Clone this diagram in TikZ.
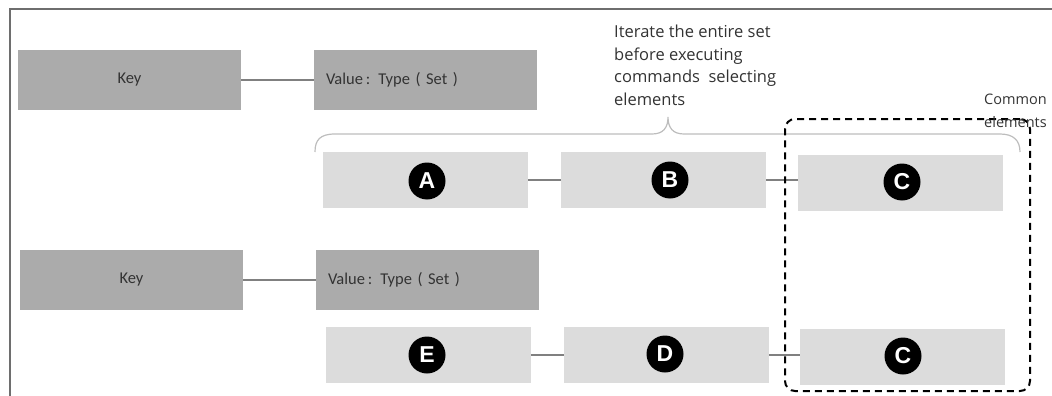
\documentclass[tikz,border=0pt]{standalone}
\usepackage{fontspec}
\setmainfont{Carlito}
\newfontfamily\notefont{Open Sans}
\newfontfamily\badgefont{Liberation Sans}
\definecolor{keygray}{HTML}{ABABAB}
\definecolor{elgray}{HTML}{DCDCDC}
\definecolor{linegray}{HTML}{808080}
\definecolor{framegray}{HTML}{6E6E6E}
\definecolor{bracegray}{HTML}{BDBDBD}
\definecolor{txt}{HTML}{333333}
\begin{document}
\begin{tikzpicture}[x=1pt,y=-1pt,
  keybox/.style={fill=keygray, minimum width=223pt, minimum height=60pt, inner sep=0pt, text=txt, font=\fontsize{16.5}{18}\selectfont},
  valbox/.style={keybox, text width=199pt, inner xsep=12pt, align=left},
  elbox/.style={fill=elgray, minimum width=205pt, minimum height=56pt, inner sep=0pt},
  badge/.style={circle, fill=black, text=white, minimum size=37pt, inner sep=0pt, font=\badgefont\bfseries\fontsize{23}{23}\selectfont},
  conn/.style={draw=linegray, line width=1.6pt},
  note/.style={text=txt, font=\notefont\fontsize{16.5}{22.5}\selectfont, align=left, inner sep=0pt, anchor=north west}
]
\useasboundingbox (0,0) rectangle (1052,396);
\clip (0,0) rectangle (1052,396);
% frame
\draw[framegray, line width=2pt] (9.5,400) -- (9.5,9.5) -- (1060,9.5);

% top key/value
\node[keybox] (key1) at (129.5,80) {Key};
\node[valbox] (val1) at (425.5,80) {Value\,: Type ( Set )};
\draw[conn] (key1) -- (val1);

% note
\node[note] (note1) at (614,25) {Iterate the entire set\\before executing\\commands\ \ selecting\\elements};

% brace
\draw[bracegray, line width=1.2pt] (315,152) .. controls (315,140) and (320,134) .. (335,134)
  -- (652,134) .. controls (663,134) and (668,128) .. (668,117)
  .. controls (668,128) and (673,134) .. (684,134)
  -- (1000,134) .. controls (1013,134) and (1020,140) .. (1020,152);

% row 1
\node[elbox] (A) at (425.5,180) {};
\node[elbox] (B) at (663.5,180) {};
\node[elbox] (C1) at (900.5,182.5) {};
\node[badge] (bA) at (427,181) {A};
\node[badge] (bB) at (670,180) {B};
\node[badge] (bC1) at (902,182) {C};
\draw[conn] (A) -- (B);
\draw[conn] (B.east) -- (B.east -| C1.west);

% bottom key/value
\node[keybox] (key2) at (131.5,280) {Key};
\node[valbox] (val2) at (427.5,280) {Value\,: Type ( Set )};
\draw[conn] (key2) -- (val2);

% row 2
\node[elbox] (E) at (428.5,355) {};
\node[elbox] (D) at (666.5,355) {};
\node[elbox] (C2) at (902.5,357) {};
\node[badge] (bE) at (427,355) {E};
\node[badge] (bD) at (665,354) {D};
\node[badge] (bC2) at (903,356) {C};
\draw[conn] (E) -- (D);
\draw[conn] (D.east) -- (D.east -| C2.west);

% common group
\node[draw=black, dashed, dash pattern=on 7pt off 5pt, line width=2pt, rounded corners=10pt, minimum width=245pt, minimum height=272pt, inner sep=0pt] (grp) at (907.5,255) {};
\node[note, font=\notefont\fontsize{14.5}{22.5}\selectfont] (note2) at (984,94) {Common\\elements};
\end{tikzpicture}
\end{document}
